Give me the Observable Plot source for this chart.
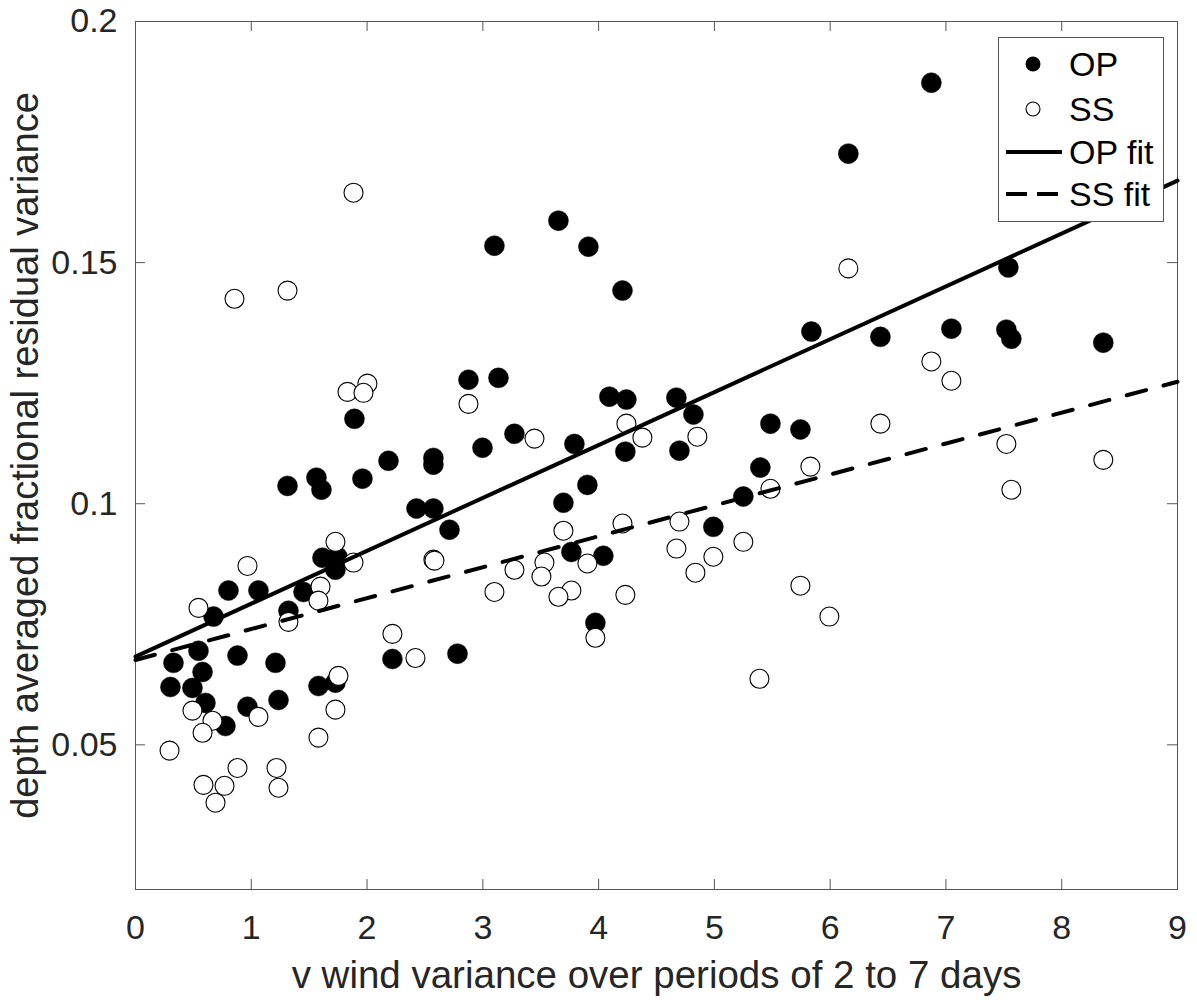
<!DOCTYPE html>
<html>
<head>
<meta charset="utf-8">
<script src="https://cdn.jsdelivr.net/npm/d3@7"></script>
<script src="https://cdn.jsdelivr.net/npm/@observablehq/plot@0.6"></script>
<style>
  body { margin: 0; background: #fff; }
  #chart svg { display: block; }
</style>
</head>
<body>
<div id="chart"></div>
<script>
// OP (filled) observations
const opX = [0.328,0.302,0.492,0.544,0.579,0.604,0.674,0.777,0.803,0.881,0.967,1.062,1.209,1.235,1.321,1.451,1.615,1.744,1.727,1.580,1.727,2.219,1.891,1.313,1.563,1.606,1.960,2.185,2.573,2.573,2.427,2.573,2.712,3.100,3.653,3.912,4.206,2.876,3.135,4.093,4.240,4.672,4.819,3.273,2.997,3.791,4.231,4.698,3.903,3.696,3.765,4.041,3.972,2.781,5.484,5.743,5.397,5.250,4.991,6.874,6.157,7.539,5.838,6.434,7.047,7.522,7.565,8.359];
const opY = [0.0670,0.0620,0.0618,0.0695,0.0651,0.0587,0.0766,0.0539,0.0820,0.0685,0.0579,0.0820,0.0670,0.0593,0.0778,0.0817,0.0888,0.0890,0.0863,0.0622,0.0629,0.0678,0.1176,0.1037,0.1054,0.1029,0.1052,0.1089,0.1095,0.1081,0.0990,0.0990,0.0946,0.1535,0.1587,0.1533,0.1442,0.1257,0.1261,0.1222,0.1216,0.1220,0.1185,0.1145,0.1116,0.1124,0.1108,0.1110,0.1039,0.1002,0.0900,0.0892,0.0753,0.0689,0.1166,0.1154,0.1075,0.1015,0.0952,0.1873,0.1726,0.1490,0.1357,0.1346,0.1363,0.1361,0.1342,0.1334];

// SS (open) observations
const ssX = [0.544,0.967,1.727,1.883,1.598,1.580,1.321,2.573,2.219,2.418,1.753,1.727,1.580,0.492,0.665,0.579,1.062,0.294,0.881,0.587,0.769,0.691,1.218,1.235,0.855,1.313,1.831,2.003,1.969,1.883,2.876,4.240,4.378,4.853,3.446,3.696,4.206,4.698,2.582,3.273,3.100,3.532,3.506,3.903,3.765,3.653,4.672,4.836,4.231,3.972,6.434,5.829,5.484,4.991,5.250,5.743,5.993,5.389,6.157,6.874,7.047,7.522,8.359,7.565];
const ssY = [0.0784,0.0871,0.0921,0.0878,0.0828,0.0799,0.0755,0.0884,0.0730,0.0680,0.0643,0.0573,0.0515,0.0571,0.0550,0.0525,0.0558,0.0488,0.0452,0.0417,0.0415,0.0380,0.0452,0.0411,0.1425,0.1442,0.1232,0.1249,0.1230,0.1645,0.1207,0.1166,0.1137,0.1139,0.1135,0.0944,0.0959,0.0963,0.0882,0.0863,0.0817,0.0878,0.0849,0.0876,0.0820,0.0807,0.0907,0.0857,0.0811,0.0722,0.1166,0.1077,0.1031,0.0890,0.0921,0.0830,0.0766,0.0637,0.1488,0.1295,0.1255,0.1124,0.1091,0.1029];

// Fit lines (endpoints)
const fitX = [0, 9];
const opFitY = [0.0683, 0.1670];
const ssFitY = [0.0676, 0.1253];

// Ticks
const xTicks = [0,1,2,3,4,5,6,7,8,9];
const xTickLabels = ["0","1","2","3","4","5","6","7","8","9"];
const yTicks = [0.05, 0.1, 0.15, 0.2];
const yTickLabels = ["0.05", "0.1", "0.15", "0.2"];

const xLabel = "v wind variance over periods of 2 to 7 days";
const yLabel = "depth averaged fractional residual variance";
const legendLabels = ["OP", "SS", "OP fit", "SS fit"];

const op = opX.map((x, i) => ({x, y: opY[i]}));
const ss = ssX.map((x, i) => ({x, y: ssY[i]}));
const opFit = fitX.map((x, i) => ({x, y: opFitY[i]}));
const ssFit = fitX.map((x, i) => ({x, y: ssFitY[i]}));

const W = 1197, H = 1000;
const mL = 135, mR = 20, mT = 21, mB = 111;
const fw = W - mL - mR, fh = H - mT - mB;
const axisColor = "#262626";
const tickLen = 10;
const FONT = "'Liberation Sans', Arial, Helvetica, sans-serif";

const plot = Plot.plot({
  width: W,
  height: H,
  marginLeft: mL, marginRight: mR, marginTop: mT, marginBottom: mB,
  style: {fontFamily: FONT, fontSize: "34px", color: axisColor, background: "#fff"},
  x: {domain: [0, 9], label: null},
  y: {domain: [0.02, 0.2], label: null},
  marks: [
    // inward ticks
    Plot.tickY(yTicks, {y: d => d, insetRight: fw - tickLen, stroke: "#555", strokeWidth: 1}),
    Plot.tickY(yTicks, {y: d => d, insetLeft: fw - tickLen, stroke: "#555", strokeWidth: 1}),
    Plot.tickX(xTicks, {x: d => d, insetTop: fh - tickLen, stroke: "#555", strokeWidth: 1}),
    Plot.tickX(xTicks, {x: d => d, insetBottom: fh - tickLen, stroke: "#555", strokeWidth: 1}),
    Plot.frame({stroke: "#555", strokeWidth: 1}),
    Plot.axisX(xTicks, {tickSize: 0, tickPadding: 25, fontSize: 34, fill: axisColor, label: null,
      tickFormat: d => xTickLabels[xTicks.indexOf(d)]}),
    Plot.axisY(yTicks, {tickSize: 0, tickPadding: 18, fontSize: 34, fill: axisColor, label: null,
      tickFormat: d => yTickLabels[yTicks.indexOf(d)]}),
    Plot.text([xLabel], {text: d => d, frameAnchor: "bottom", textAnchor: "middle", dy: 98, lineAnchor: "bottom", fontSize: 38.5, fill: axisColor}),
    Plot.text([yLabel], {text: d => d, frameAnchor: "left", textAnchor: "middle", dx: -98, rotate: -90, lineAnchor: "bottom", fontSize: 38, fill: axisColor}),
    // data
    Plot.dot(op, {x: "x", y: "y", r: 10, fill: "#000", stroke: "#000", strokeWidth: 0.5}),
    Plot.dot(ss, {x: "x", y: "y", r: 9.5, fill: "#fff", stroke: "#000", strokeWidth: 1.1}),
    Plot.line(opFit, {x: "x", y: "y", stroke: "#000", strokeWidth: 4}),
    Plot.line(ssFit, {x: "x", y: "y", stroke: "#000", strokeWidth: 4, strokeDasharray: "20,18"})
  ]
});

// Legend (inside plot, top-right)
const svg = d3.select(plot);
const lg = svg.append("g");
lg.append("rect").attr("x", 998.5).attr("y", 37.5).attr("width", 165).attr("height", 184)
  .attr("fill", "#fff").attr("stroke", "#555").attr("stroke-width", 1);
const kinds = ["filled", "open", "solid", "dashed"];
const rowY = [64, 109, 152, 194];
legendLabels.forEach((label, i) => {
  const cy = rowY[i], kind = kinds[i];
  if (kind === "filled") lg.append("circle").attr("cx", 1033).attr("cy", cy).attr("r", 7.5).attr("fill", "#000");
  if (kind === "open") lg.append("circle").attr("cx", 1033).attr("cy", cy).attr("r", 7).attr("fill", "#fff").attr("stroke", "#000").attr("stroke-width", 1.1);
  if (kind === "solid") lg.append("line").attr("x1", 1006).attr("x2", 1062).attr("y1", cy).attr("y2", cy).attr("stroke", "#000").attr("stroke-width", 4);
  if (kind === "dashed") lg.append("line").attr("x1", 1006).attr("x2", 1062).attr("y1", cy).attr("y2", cy).attr("stroke", "#000").attr("stroke-width", 4).attr("stroke-dasharray", "21,10");
  lg.append("text").attr("x", 1069).attr("y", cy).attr("dy", "0.35em")
    .style("font-family", FONT).style("font-size", "34px").style("fill", "#000")
    .attr("text-anchor", "start").style("text-anchor", "start")
    .text(label);
});

document.getElementById("chart").appendChild(plot);
</script>
</body>
</html>
